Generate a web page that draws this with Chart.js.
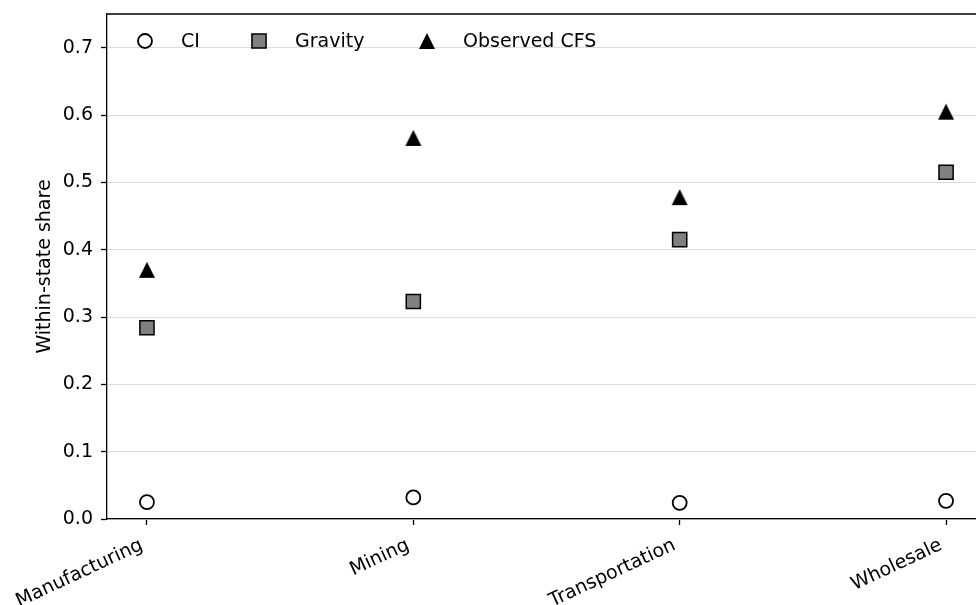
<!DOCTYPE html>
<html>
<head>
<meta charset="utf-8">
<script src="https://cdn.jsdelivr.net/npm/chart.js@4.4.1/dist/chart.umd.min.js"></script>
<style>
  html, body { margin: 0; padding: 0; background: #fff; overflow: hidden; }
  #grafica { display: block; }
</style>
</head>
<body>
<canvas id="grafica" width="1000" height="605"></canvas>
<script>
const categories = ['Manufacturing', 'Mining', 'Transportation', 'Wholesale'];
const ciValues = [0.025, 0.032, 0.024, 0.027];
const gravityValues = [0.284, 0.323, 0.415, 0.515];
const observedValues = [0.370, 0.566, 0.478, 0.605];
const yTicks = [0, 0.1, 0.2, 0.3, 0.4, 0.5, 0.6, 0.7];

const FONT = 'DejaVu Sans';

const toPoints = vals => vals.map((v, i) => ({ x: i, y: v }));

// matplotlib-style '^' marker: box-centred, as wide as it is tall
function triangleMarker(size) {
    const c = document.createElement('canvas');
    c.width = size + 2;
    c.height = size + 2;
    const g = c.getContext('2d');
    g.fillStyle = '#000';
    g.beginPath();
    g.moveTo(1 + size / 2, 1);
    g.lineTo(1, 1 + size);
    g.lineTo(1 + size, 1 + size);
    g.closePath();
    g.fill();
    return c;
}
const triangle = triangleMarker(16);

const ci = {
    label: 'CI',
    data: toPoints(ciValues),
    pointStyle: 'circle',
    pointRadius: 7,
    backgroundColor: '#ffffff',
    borderColor: '#000000',
    borderWidth: 1.8,
};
const gravity = {
    label: 'Gravity',
    data: toPoints(gravityValues),
    pointStyle: 'rect',
    pointRadius: 10,
    backgroundColor: '#808080',
    borderColor: '#000000',
    borderWidth: 1.5,
};
const observed = {
    label: 'Observed CFS',
    data: toPoints(observedValues),
    pointStyle: triangle,
    pointRadius: 9,
    backgroundColor: '#000000',
    borderColor: '#000000',
    borderWidth: 1,
};

// legend marker offsets from the left edge of the plot
const legendX = [38, 152, 320];

// frame on top + legend inside the plot, like the original
const frameAndLegend = {
    id: 'frameAndLegend',
    afterDatasetsDraw(chart) {
        const ctx = chart.ctx;
        const area = chart.chartArea;
        ctx.save();
        ctx.strokeStyle = '#000';
        ctx.lineWidth = 1.3;
        ctx.beginPath();
        ctx.moveTo(area.left, area.top);
        ctx.lineTo(area.right, area.top);
        ctx.stroke();

        ctx.font = '19px "' + FONT + '"';
        ctx.textBaseline = 'middle';
        ctx.textAlign = 'left';
        const y = area.top + 27;
        chart.data.datasets.forEach((ds, i) => {
            const x = area.left + legendX[i];
            ctx.fillStyle = ds.backgroundColor;
            ctx.strokeStyle = ds.borderColor;
            ctx.lineWidth = ds.borderWidth;
            Chart.helpers.drawPoint(ctx, {
                pointStyle: ds.pointStyle,
                radius: ds.pointRadius,
                borderWidth: ds.borderWidth,
                rotation: 0
            }, x, y);
            ctx.fillStyle = '#000';
            ctx.fillText(ds.label, x + 36, y + 1);
        });
        ctx.restore();
    }
};

const grafica = document.getElementById('grafica');

let myChart = new Chart(grafica, {
    type: 'scatter',
    data: {
        datasets: [ci, gravity, observed]
    },
    plugins: [frameAndLegend],
    options: {
        responsive: false,
        devicePixelRatio: 1,
        animation: false,
        layout: {
            padding: { top: 14, right: 14, left: 0, bottom: 0 }
        },
        scales: {
            x: {
                type: 'linear',
                min: -0.15,
                max: 3.15,
                afterBuildTicks: axis => {
                    axis.ticks = categories.map((c, i) => ({ value: i }));
                },
                afterFit: axis => { axis.height = 86; },
                ticks: {
                    autoSkip: false,
                    minRotation: 25,
                    maxRotation: 25,
                    padding: 9,
                    labelOffset: -5,
                    color: '#000',
                    font: { family: FONT, size: 19 },
                    callback: v => categories[v]
                },
                grid: {
                    drawOnChartArea: false,
                    drawTicks: true,
                    tickLength: 6,
                    tickColor: '#000',
                    tickWidth: 1.3
                },
                border: { color: '#000', width: 1.3 }
            },
            y: {
                min: 0,
                max: 0.75,
                afterBuildTicks: axis => {
                    axis.ticks = yTicks.map(v => ({ value: v }));
                },
                afterFit: axis => {
                    axis.width = 107;
                    axis.paddingTop = 0;
                    axis.paddingBottom = 0;
                },
                ticks: {
                    padding: 8,
                    color: '#000',
                    font: { family: FONT, size: 19 },
                    callback: v => Number(v).toFixed(1)
                },
                grid: {
                    color: '#dcdcdc',
                    lineWidth: 1,
                    tickLength: 6,
                    tickColor: '#000',
                    tickWidth: 1.3
                },
                border: { color: '#000', width: 1.3 },
                title: {
                    display: true,
                    text: 'Within-state share',
                    color: '#000',
                    font: { family: FONT, size: 19 },
                    padding: { top: 34, bottom: 0 }
                }
            }
        },
        plugins: {
            legend: { display: false },
            tooltip: { enabled: false }
        }
    }
});
</script>
</body>
</html>
